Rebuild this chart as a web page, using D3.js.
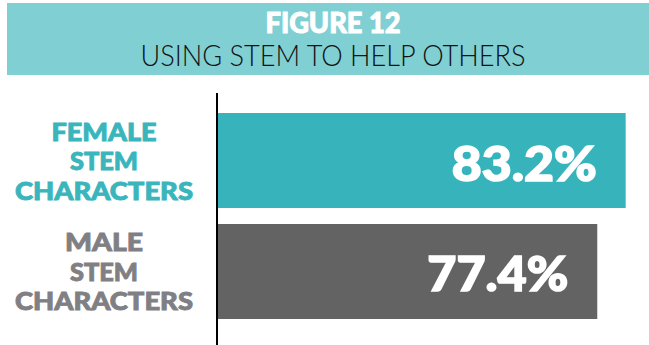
<!DOCTYPE html>
<html><head><meta charset="utf-8">
<script src="https://cdn.jsdelivr.net/npm/d3@7"></script>
<style>html,body{margin:0;padding:0;background:#fff;}svg{display:block;}</style>
</head><body>
<svg id="c" width="649" height="345"></svg>
<script>
const categories = ["FEMALE STEM CHARACTERS", "MALE STEM CHARACTERS"];
const labelLines = [["FEMALE","STEM","CHARACTERS"],["MALE","STEM","CHARACTERS"]];
const values = [83.2, 77.4];
const valueLabels = ["83.2%", "77.4%"];
const title = "FIGURE 12";
const subtitle = "USING STEM TO HELP OTHERS";
const barColors = ["#37B4BB", "#636363"];
const labelColors = ["#3AB5BC", "#808084"];

const svg = d3.select("#c");
const fontBold = "'Lato', 'Open Sans', sans-serif";

// header band
svg.append("rect").attr("x", 7).attr("y", 3).attr("width", 642).attr("height", 72).attr("fill", "#80CFD3");
svg.append("text").attr("x", 333).attr("y", 33).attr("text-anchor", "middle")
  .attr("font-family", fontBold).attr("font-weight", 900).attr("font-size", 28)
  .attr("fill", "#fff").attr("stroke", "#fff").attr("stroke-width", 1)
  .attr("textLength", 135).attr("lengthAdjust", "spacingAndGlyphs").text(title);
svg.append("text").attr("x", 333).attr("y", 66).attr("text-anchor", "middle")
  .attr("font-family", fontBold).attr("font-weight", 300).attr("font-size", 30)
  .attr("fill", "#111").attr("textLength", 385).attr("lengthAdjust", "spacingAndGlyphs").text(subtitle);

const x = d3.scaleLinear().domain([0, 100]).range([218, 708]);
const y = d3.scaleBand().domain(categories).range([113, 319]).paddingInner(0.144).paddingOuter(0);

svg.selectAll("rect.bar").data(values).join("rect").attr("class", "bar")
  .attr("x", x(0)).attr("y", (d, i) => y(categories[i]))
  .attr("width", d => x(d) - x(0)).attr("height", y.bandwidth())
  .attr("fill", (d, i) => barColors[i]);

// axis line
svg.append("line").attr("x1", 217).attr("x2", 217).attr("y1", 93).attr("y2", 345)
  .attr("stroke", "#000").attr("stroke-width", 2);

// value labels
const vlW = [145, 141];
svg.selectAll("text.val").data(values).join("text").attr("class", "val")
  .attr("x", d => x(d) - 29).attr("y", (d, i) => y(categories[i]) + y.bandwidth() / 2 + 20)
  .attr("text-anchor", "end").attr("font-family", fontBold).attr("font-weight", 900)
  .attr("font-size", 48).attr("fill", "#fff").attr("stroke", "#fff").attr("stroke-width", 1.6)
  .attr("textLength", (d, i) => vlW[i]).attr("lengthAdjust", "spacingAndGlyphs")
  .text((d, i) => valueLabels[i]);

// category labels
const lineW = {"FEMALE": 105, "MALE": 78, "STEM": 68, "CHARACTERS": 178};
categories.forEach((c, i) => {
  const cy = y(c) + y.bandwidth() / 2;
  labelLines[i].forEach((t, j) => {
    svg.append("text").attr("x", 104).attr("y", cy + (j - 1) * 29.5 + 9.5)
      .attr("text-anchor", "middle").attr("font-family", fontBold).attr("font-weight", 900)
      .attr("font-size", 25).attr("fill", labelColors[i])
      .attr("stroke", labelColors[i]).attr("stroke-width", 0.9)
      .attr("textLength", lineW[t]).attr("lengthAdjust", "spacingAndGlyphs").text(t);
  });
});
</script>
</body></html>
